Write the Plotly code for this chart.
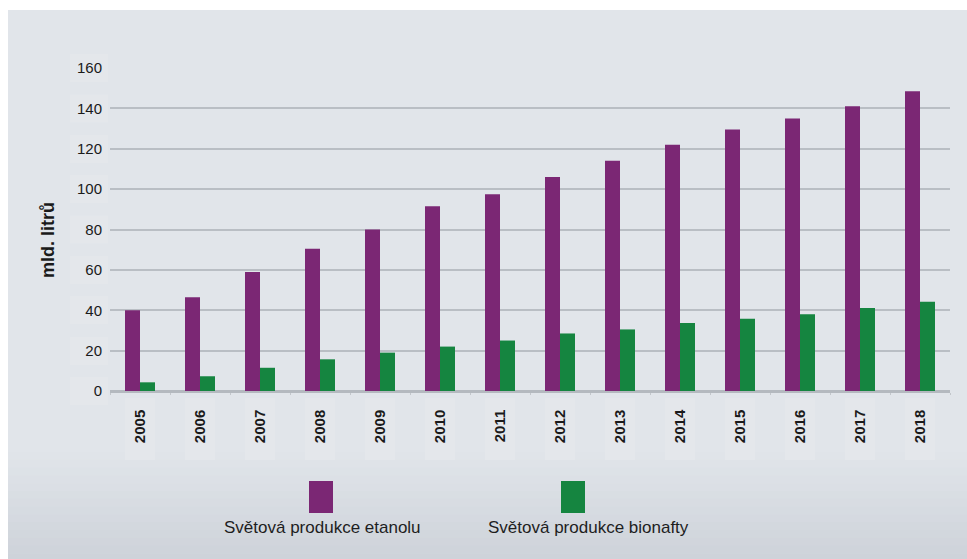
import plotly.graph_objects as go

# World production of biofuels, billions of litres
years = ["2005", "2006", "2007", "2008", "2009", "2010", "2011",
         "2012", "2013", "2014", "2015", "2016", "2017", "2018"]
ethanol = [40, 46.5, 59, 70.5, 80, 91.5, 97.5, 106, 114, 122, 129.5, 135, 141, 148.5]
biodiesel = [4.3, 7.3, 11.5, 15.7, 19, 22, 25, 28.5, 30.5, 33.7, 35.8, 38, 41.1, 44.2]

name_ethanol = "Světová produkce etanolu"
name_biodiesel = "Světová produkce bionafty"
y_title = "mld. litrů"
y_ticks = [0, 20, 40, 60, 80, 100, 120, 140, 160]

PURPLE = "#7b2774"
GREEN = "#158540"
FONT = "Liberation Sans, Arial, sans-serif"

W, H = 967, 559
ML, MR, MT, MB = 110, 17, 68, 168
PW = W - ML - MR
PH = H - MT - MB


def px(x):
    return (x - ML) / PW


def py(y):
    return (H - MB - y) / PH


fig = go.Figure()
fig.add_trace(go.Bar(x=years, y=ethanol, name=name_ethanol,
                     marker=dict(color=PURPLE, line=dict(width=0)), showlegend=False))
fig.add_trace(go.Bar(x=years, y=biodiesel, name=name_biodiesel,
                     marker=dict(color=GREEN, line=dict(width=0)), showlegend=False))

shapes = []
# grey panel with white strip on top and left
shapes.append(dict(type="rect", xref="paper", yref="paper", layer="below",
                   x0=px(8), x1=px(W + 2), y0=py(H + 2), y1=py(10),
                   fillcolor="#e1e5ea", line=dict(width=0)))
# darker gradient toward the bottom
top_c = (0xe1, 0xe5, 0xea)
bot_c = (0xcd, 0xd2, 0xd9)
n = 14
y_start = 452
step = (H + 2 - y_start) / n
for i in range(n):
    t = (i + 0.5) / n
    c = tuple(round(a + (b - a) * t) for a, b in zip(top_c, bot_c))
    shapes.append(dict(type="rect", xref="paper", yref="paper", layer="below",
                       x0=px(8), x1=px(W + 2),
                       y0=py(y_start + (i + 1) * step + 0.5), y1=py(y_start + i * step),
                       fillcolor="rgb(%d,%d,%d)" % c, line=dict(width=0)))
# faint boxes behind the year labels
for i, _ in enumerate(years):
    cx = ML + (i + 0.5) * PW / len(years)
    shapes.append(dict(type="rect", xref="paper", yref="paper", layer="below",
                       x0=px(cx - 15), x1=px(cx + 15), y0=py(460), y1=py(398),
                       fillcolor="#e4e7eb", line=dict(width=0)))
# faint boxes behind the value labels
for v in y_ticks:
    yc = (H - MB) - v / 160 * PH
    shapes.append(dict(type="rect", xref="paper", yref="paper", layer="below",
                       x0=px(70), x1=px(108), y0=py(yc + 14), y1=py(yc - 14),
                       fillcolor="#e4e7eb", line=dict(width=0)))

# legend swatches with captions underneath
legend_items = [(name_ethanol, PURPLE, 321, 322), (name_biodiesel, GREEN, 573, 588)]
annotations = []
for label, color, sx, tx in legend_items:
    shapes.append(dict(type="rect", xref="paper", yref="paper",
                       x0=px(sx - 12), x1=px(sx + 12), y0=py(513), y1=py(481),
                       fillcolor=color, line=dict(width=0)))
    annotations.append(dict(xref="paper", yref="paper", x=px(tx), y=py(527),
                            text=label, showarrow=False, xanchor="center", yanchor="middle",
                            font=dict(family=FONT, size=17, color="#1e1e1e")))

annotations.append(dict(xref="paper", yref="paper", x=px(48), y=py(240),
                        text="<b>%s</b>" % y_title, textangle=-90, showarrow=False,
                        xanchor="center", yanchor="middle",
                        font=dict(family=FONT, size=18, color="#1a1a1a")))

fig.update_layout(
    width=W, height=H,
    margin=dict(l=ML, r=MR, t=MT, b=MB, pad=0),
    paper_bgcolor="white",
    plot_bgcolor="rgba(0,0,0,0)",
    barmode="group",
    bargap=0.5,
    bargroupgap=0,
    shapes=shapes,
    annotations=annotations,
    font=dict(family=FONT, color="#1a1a1a"),
    xaxis=dict(
        type="category",
        tickangle=-90,
        tickfont=dict(family=FONT, size=15, color="#1a1a1a", weight="bold"),
        showgrid=False,
        showline=True, linecolor="#b4b9bf", linewidth=1.5,
        ticks="outside", ticklen=2, tickcolor="#c2c6cb", tickwidth=1,
        tickson="boundaries",
        ticklabelstandoff=11,
        fixedrange=True,
    ),
    yaxis=dict(
        range=[0, 160],
        tickvals=y_ticks,
        tickfont=dict(family=FONT, size=15, color="#1a1a1a"),
        showgrid=True, gridcolor="#b9bec4", gridwidth=1.5,
        zeroline=True, zerolinecolor="#b4b9bf", zerolinewidth=1.5,
        ticks="", ticklabelstandoff=7,
        fixedrange=True,
    ),
)

fig.write_html("out.html")
